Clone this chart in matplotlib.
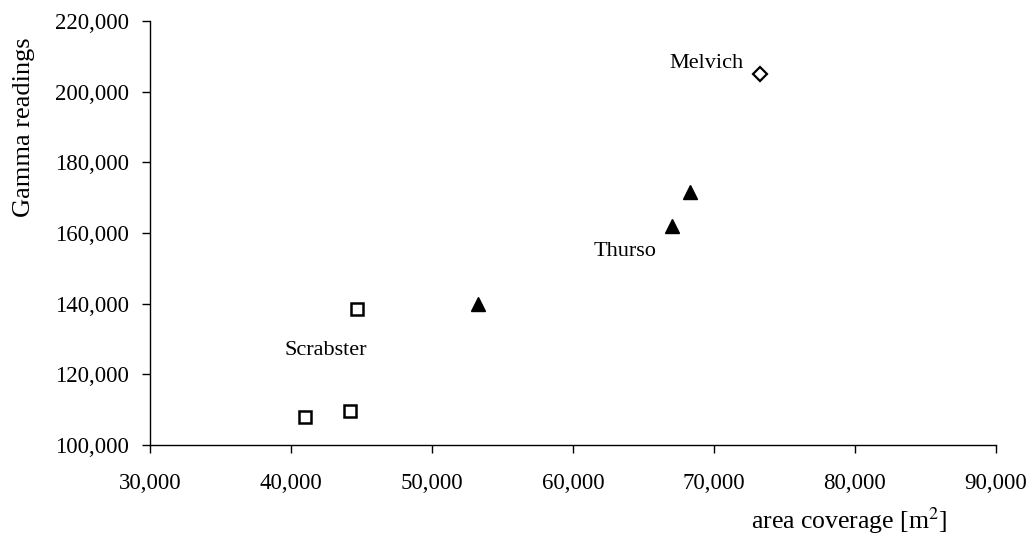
import matplotlib
matplotlib.use("Agg")
import matplotlib.pyplot as plt
from matplotlib.ticker import FuncFormatter

plt.rcParams['font.family'] = ['Liberation Serif', 'DejaVu Serif']
plt.rcParams['mathtext.fontset'] = 'stix'

# Survey sites: area coverage [m^2] vs gamma readings
scrabster_area = [41000, 44200, 44700]
scrabster_gamma = [108000, 109500, 138500]

thurso_area = [53300, 67000, 68300]
thurso_gamma = [140000, 162000, 171500]

melvich_area = [73300]
melvich_gamma = [205000]

site_labels = ["Scrabster", "Thurso", "Melvich"]
label_area = [42500, 63700, 69500]
label_gamma = [126600, 154900, 208100]

x_ticks = [30000, 40000, 50000, 60000, 70000, 80000, 90000]
y_ticks = [100000, 120000, 140000, 160000, 180000, 200000, 220000]

fig = plt.figure(figsize=(10.35, 5.4), dpi=100)
ax = fig.add_axes([0.145, 0.176, 0.817, 0.785])

ax.plot(scrabster_area, scrabster_gamma, linestyle='none', marker='s',
        markersize=8, markerfacecolor='white', markeredgecolor='black',
        markeredgewidth=1.8)
ax.plot(thurso_area, thurso_gamma, linestyle='none', marker='^',
        markersize=10, markerfacecolor='black', markeredgecolor='black')
ax.plot(melvich_area, melvich_gamma, linestyle='none', marker='D',
        markersize=7.5, markerfacecolor='white', markeredgecolor='black',
        markeredgewidth=1.6)

for name, xa, yg in zip(site_labels, label_area, label_gamma):
    ax.text(xa, yg, name, ha='center', va='center', fontsize=16)

ax.set_xlim(x_ticks[0], x_ticks[-1])
ax.set_ylim(y_ticks[0], y_ticks[-1])
ax.set_xticks(x_ticks)
ax.set_yticks(y_ticks)
fmt = FuncFormatter(lambda v, p: f"{int(v):,}")
ax.xaxis.set_major_formatter(fmt)
ax.yaxis.set_major_formatter(fmt)

ax.spines['top'].set_visible(False)
ax.spines['right'].set_visible(False)
for s in ('left', 'bottom'):
    ax.spines[s].set_linewidth(1.0)
ax.tick_params(direction='out', length=6, width=1.0, labelsize=16.5)
ax.tick_params(axis='x', pad=14)
ax.tick_params(axis='y', pad=9)

ax.set_ylabel("Gamma readings", fontsize=19)
ax.yaxis.set_label_coords(-0.136, 0.75)
ax.set_xlabel("area coverage [m$^2$]", fontsize=18.5)
ax.xaxis.set_label_coords(0.827, -0.142)

fig.savefig("out.png", dpi=100, facecolor='white')
